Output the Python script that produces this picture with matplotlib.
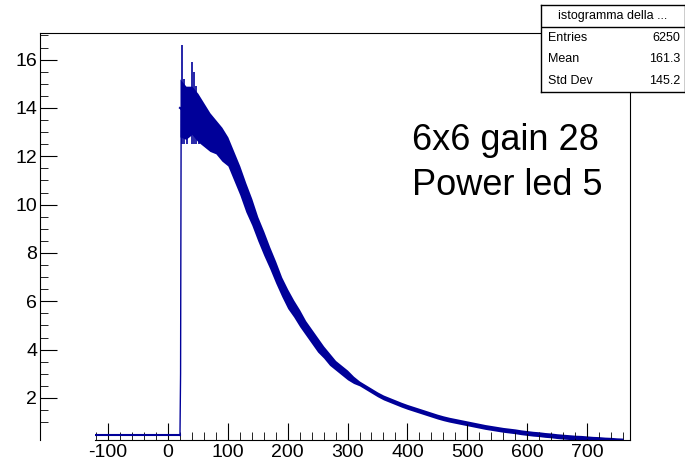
import matplotlib
matplotlib.use("Agg")
import matplotlib.pyplot as plt
import numpy as np

plt.rcParams['font.family'] = ['Liberation Sans', 'DejaVu Sans']

x_pre = [-122, 20]
y_pre = [0.45, 0.45]
x_rise = [20, 21, 22]
y_rise = [0.45, 3.0, 14.0]
x_main = list(range(20, 770, 10))
y_main = [14.0, 13.8, 13.9, 13.6, 13.3, 13.0, 12.8, 12.5, 12.2, 11.6, 11.0, 10.3, 9.7, 9.0,
          8.4, 7.8, 7.2, 6.6, 6.1, 5.7, 5.3, 4.9, 4.55, 4.2, 3.9, 3.6, 3.35, 3.15, 2.95, 2.75,
          2.6, 2.45, 2.3, 2.15, 2.02, 1.92, 1.82, 1.72, 1.63, 1.55, 1.47, 1.39, 1.31, 1.23, 1.16,
          1.1, 1.05, 1.0, 0.95, 0.9, 0.85, 0.8, 0.76, 0.72, 0.68, 0.65, 0.62, 0.58, 0.55, 0.52,
          0.5, 0.47, 0.45, 0.42, 0.4, 0.38, 0.36, 0.35, 0.33, 0.31, 0.3, 0.28, 0.27, 0.25, 0.24]
noise_half = [1.2, 1.1, 1.0, 1.0, 0.9, 0.8, 0.7, 0.7, 0.6, 0.6, 0.6, 0.6, 0.55, 0.5,
              0.5, 0.45, 0.45, 0.4, 0.4, 0.35, 0.35, 0.3, 0.3, 0.3, 0.25, 0.25, 0.2, 0.2, 0.2, 0.15] + [0.1] * 45
spike_x = [24, 27, 31, 40, 43, 47, 52]
spike_y = [16.6, 15.2, 14.8, 15.9, 15.5, 14.9, 14.3]

W, H = 685, 469
fig = plt.figure(figsize=(W / 100, H / 100), dpi=100)
C = '#000099'
ylim = (0.26, 17.1)

def fx(px): return px / W
def fy(py): return 1 - py / H

fr = fig.add_axes([fx(40), fy(440), fx(630) - fx(40), fy(33) - fy(440)])
fr.set_ylim(*ylim)
fr.set_xticks([])
fr.spines['bottom'].set_visible(False)
fr.set_yticks([2, 4, 6, 8, 10, 12, 14, 16])
fr.set_yticks(np.arange(1, 17.1, 0.5), minor=True)
fr.tick_params(axis='y', direction='in', length=12, labelsize=14, pad=2)
fr.tick_params(axis='y', which='minor', direction='in', length=6)
fr.patch.set_alpha(0)

ax = fig.add_axes([fx(95), fy(440), fx(630) - fx(95), fy(33) - fy(440)])
ax.patch.set_alpha(0)
ax.set_xlim(-122, 772)
ax.set_ylim(*ylim)
for s in ['top', 'right', 'left']:
    ax.spines[s].set_visible(False)
ax.set_yticks([])
ax.set_xticks(range(-100, 701, 100))
ax.set_xticklabels(['-100', '0', '100', '200', '300', '400', '500', '600', '700'])
ax.set_xticks(range(-120, 771, 20), minor=True)
ax.tick_params(axis='x', direction='in', length=12, labelsize=14, pad=3)
ax.tick_params(axis='x', which='minor', direction='in', length=6)

ax.plot(x_pre, y_pre, color=C, lw=1.5)
ax.plot(x_rise, y_rise, color=C, lw=1)
xm = np.array(x_main); ym = np.array(y_main); nh = np.array(noise_half)
ax.fill_between(xm, ym - nh, ym + nh, color=C, lw=0)
ax.plot(xm, ym, color=C, lw=1.5)
ax.vlines(spike_x, 12.5, spike_y, color=C, lw=1.2)

fig.text(fx(412), fy(140), '6x6 gain 28', fontsize=26, va='center')
fig.text(fx(412), fy(185), 'Power led 5', fontsize=26, va='center')

bx = fig.add_axes([fx(541), fy(92), fx(685) - fx(541), fy(5) - fy(92)])
bx.set_xlim(0, 1); bx.set_ylim(0, 4)
bx.set_xticks([]); bx.set_yticks([])
for s in bx.spines.values():
    s.set_linewidth(1)
bx.axhline(3, color='k', lw=1)
bx.text(0.5, 3.5, 'istogramma della ...', ha='center', va='center', fontsize=9)
for i, (k, v) in enumerate([('Entries', '6250'), ('Mean', '161.3'), ('Std Dev', '145.2')]):
    yy = 2.5 - i
    bx.text(0.05, yy, k, va='center', fontsize=9)
    bx.text(0.97, yy, v, va='center', ha='right', fontsize=9)

fig.savefig('out.png', dpi=100)
